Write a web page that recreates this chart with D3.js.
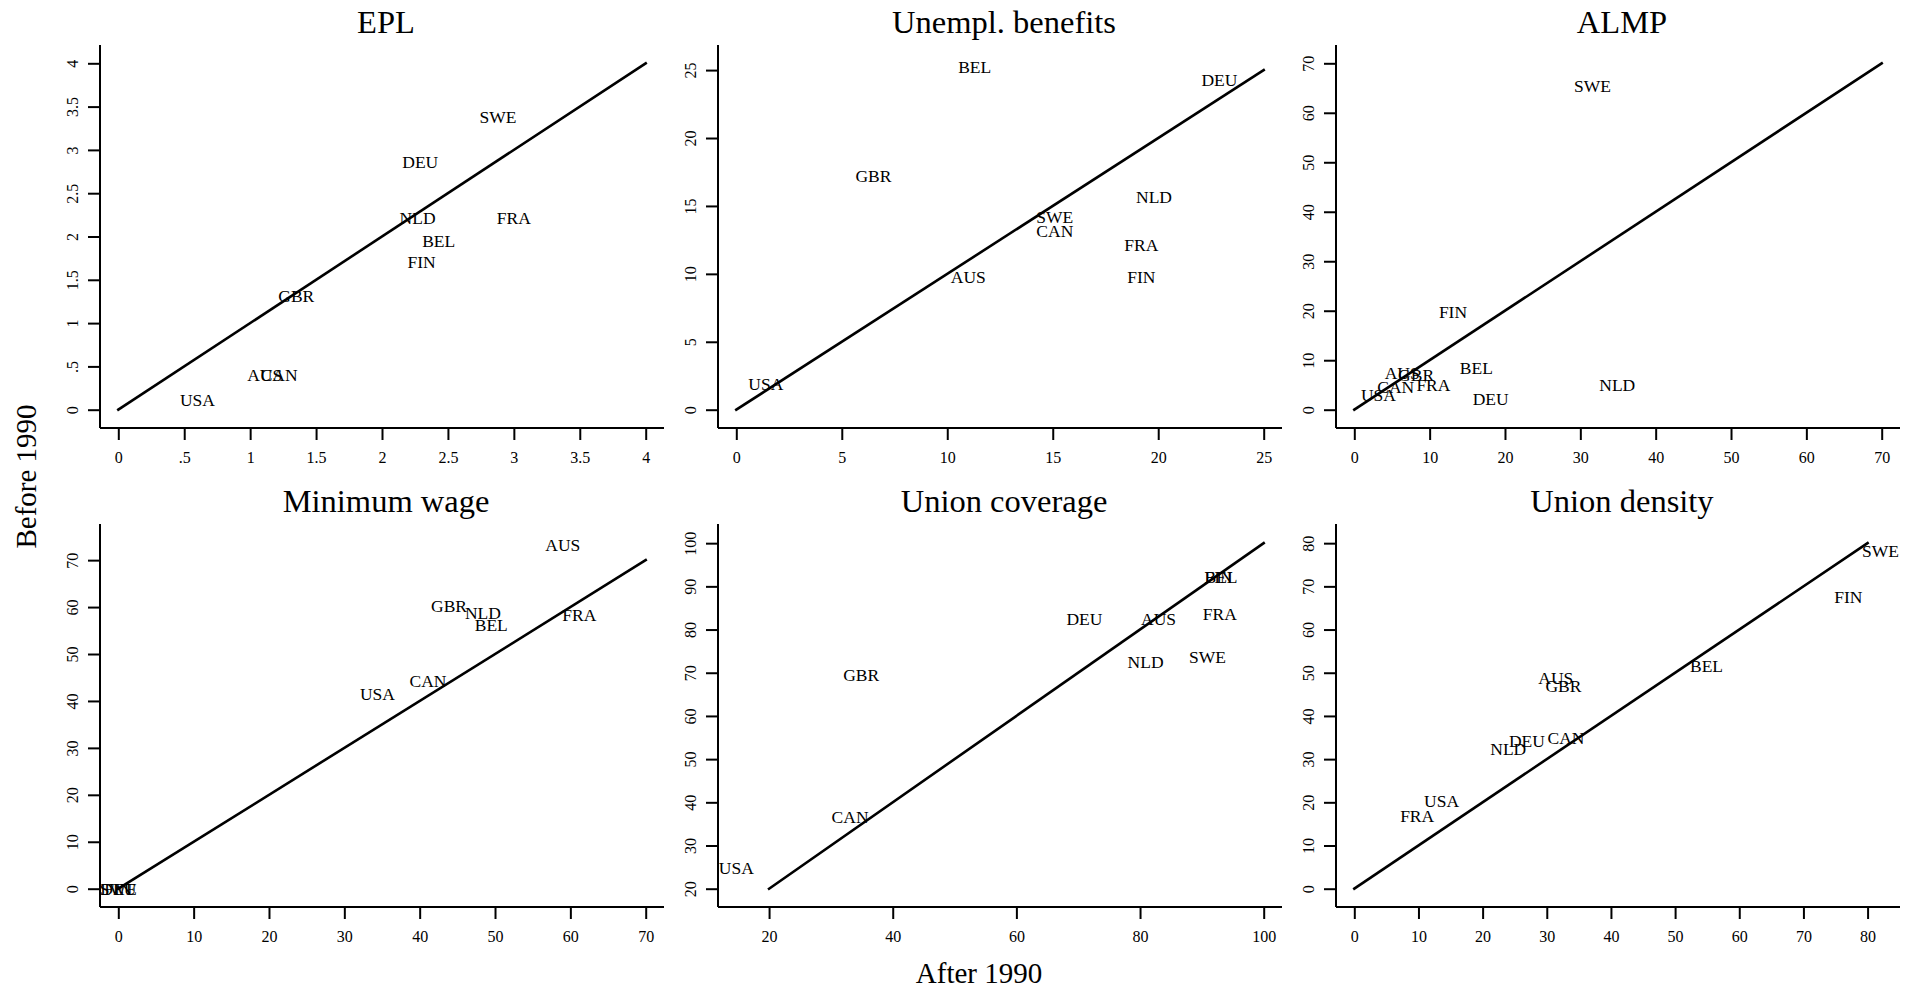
<!DOCTYPE html>
<html>
<head>
<meta charset="utf-8">
<script src="https://cdn.jsdelivr.net/npm/d3@7/dist/d3.min.js"></script>
<style>
	body { margin: 0; background: #fff; }
	svg text { font-family: "Liberation Serif", "Times New Roman", serif; fill: #000; }
</style>
</head>
<body>
<svg id="chart"></svg>
<script>
// countries, same order in every series
const countries = ['AUS', 'BEL', 'CAN', 'DEU', 'FIN', 'FRA', 'GBR', 'NLD', 'SWE', 'USA'];

const titles = ['EPL', 'Unempl. benefits', 'ALMP', 'Minimum wage', 'Union coverage', 'Union density'];

// after 1990 (x) and before 1990 (y)
const eplAfter = [1.11, 2.43, 1.22, 2.29, 2.30, 3.00, 1.35, 2.27, 2.88, 0.60];
const eplBefore = [0.40, 1.95, 0.40, 2.86, 1.71, 2.21, 1.31, 2.21, 3.38, 0.11];

const benAfter = [11.0, 11.3, 15.1, 22.9, 19.2, 19.2, 6.5, 19.8, 15.1, 1.4];
const benBefore = [9.8, 25.25, 13.2, 24.3, 9.8, 12.1, 17.2, 15.7, 14.2, 1.9];

const almpAfter = [6.35, 16.2, 5.5, 18.1, 13.1, 10.5, 8.2, 34.9, 31.6, 3.2];
const almpBefore = [7.4, 8.5, 4.6, 2.1, 19.7, 5.1, 7.0, 5.1, 65.5, 2.9];

const minwAfter = [59.0, 49.5, 41.1, 0, 0, 61.2, 43.9, 48.4, 0, 34.4];
const minwBefore = [73.2, 56.3, 44.2, 0, 0, 58.4, 60.3, 58.7, 0, 41.5];

const covAfter = [83.0, 93.1, 33.1, 71.0, 92.7, 92.9, 34.9, 80.9, 90.9, 14.7];
const covBefore = [82.5, 92.1, 36.6, 82.5, 92.1, 83.7, 69.6, 72.6, 73.6, 24.9];

const denAfter = [31.4, 54.9, 33.0, 26.9, 77.0, 9.8, 32.6, 24.0, 82.0, 13.6];
const denBefore = [48.9, 51.7, 35.0, 34.2, 67.5, 16.9, 46.9, 32.4, 78.2, 20.3];

// axis ranges, ticks and the 45 degree line for each panel
const xDomains = [[0, 4], [0, 25], [0, 70], [0, 70], [14.7, 100], [0, 82.2]];
const yDomains = [[0, 4], [0, 25.5], [0, 70], [0, 73.8], [20, 100.2], [0, 80.2]];
const xTickVals = [d3.range(0, 4.01, 0.5), d3.range(0, 26, 5), d3.range(0, 71, 10),
	d3.range(0, 71, 10), d3.range(20, 101, 20), d3.range(0, 81, 10)];
const yTickVals = [d3.range(0, 4.01, 0.5), d3.range(0, 26, 5), d3.range(0, 71, 10),
	d3.range(0, 71, 10), d3.range(20, 101, 10), d3.range(0, 81, 10)];
const diagonals = [[0, 4], [0, 25], [0, 70], [0, 70], [20, 100], [0, 80]];

const afters = [eplAfter, benAfter, almpAfter, minwAfter, covAfter, denAfter];
const befores = [eplBefore, benBefore, almpBefore, minwBefore, covBefore, denBefore];

function fmt(d) {
	return String(+d.toFixed(2)).replace(/^0\./, '.');
}

function makeChart() {
	let w = 1917;
	let h = 992;

	let chart = d3.select('#chart')
		.attr('width', w)
		.attr('height', h);

	let colX = [100, 718, 1336];
	let rowY = [45, 524];
	let pw = 564, ph = 383, pad = 18.3;

	titles.forEach((title, i) => {
		let g = chart.append('g')
			.attr('transform', `translate(${colX[i % 3]},${rowY[Math.floor(i / 3)]})`);

		let x = d3.scaleLinear().domain(xDomains[i]).range([pad, pw - pad]);
		let y = d3.scaleLinear().domain(yDomains[i]).range([ph - pad, pad]);

		// axis lines span the whole plot region
		g.append('line')
			.attr('x1', 0).attr('y1', 0).attr('x2', 0).attr('y2', ph)
			.style('stroke', '#000').style('stroke-width', 2);
		g.append('line')
			.attr('x1', 0).attr('y1', ph).attr('x2', pw).attr('y2', ph)
			.style('stroke', '#000').style('stroke-width', 2);

		let xAxis = g.append('g')
			.attr('transform', `translate(0,${ph})`)
			.call(d3.axisBottom(x).tickValues(xTickVals[i]).tickSize(12).tickFormat(fmt));
		xAxis.select('.domain').remove();
		xAxis.attr('font-size', 16).attr('font-family', null);
		xAxis.selectAll('line').style('stroke-width', 2);
		xAxis.selectAll('text')
			.attr('y', 29)
			.attr('dy', '0.35em');

		let yAxis = g.append('g')
			.call(d3.axisLeft(y).tickValues(yTickVals[i]).tickSize(12).tickFormat(fmt));
		yAxis.select('.domain').remove();
		yAxis.attr('font-size', 16).attr('font-family', null);
		yAxis.selectAll('line').style('stroke-width', 2);
		yAxis.selectAll('text')
			.attr('transform', 'rotate(-90)')
			.attr('x', 0)
			.attr('y', -28)
			.attr('dy', '0.35em')
			.style('text-anchor', 'middle');

		let dg = diagonals[i];
		g.append('line')
			.attr('x1', x(dg[0])).attr('y1', y(dg[0]))
			.attr('x2', x(dg[1])).attr('y2', y(dg[1]))
			.style('stroke', '#000')
			.style('stroke-width', 2.6)
			.style('stroke-linecap', 'square');

		let pts = countries.map((c, j) => ({ name: c, after: afters[i][j], before: befores[i][j] }));

		g.selectAll('text.lbl')
			.data(pts)
			.enter()
			.append('text')
			.classed('lbl', true)
			.attr('x', d => x(d.after))
			.attr('y', d => y(d.before))
			.attr('dy', '0.35em')
			.attr('font-size', 17.5)
			.style('text-anchor', 'middle')
			.text(d => d.name);

		g.append('text')
			.attr('x', pw / 2 + 4)
			.attr('y', -12)
			.attr('font-size', 32.5)
			.style('text-anchor', 'middle')
			.text(title);
	});

	chart.append('text')
		.attr('x', 979)
		.attr('y', 983)
		.attr('font-size', 29)
		.style('text-anchor', 'middle')
		.text('After 1990');

	chart.append('text')
		.attr('transform', 'translate(36,476.5) rotate(-90)')
		.attr('font-size', 29)
		.style('text-anchor', 'middle')
		.text('Before 1990');
}

window.onload = function () {
	makeChart();
}
</script>
</body>
</html>
